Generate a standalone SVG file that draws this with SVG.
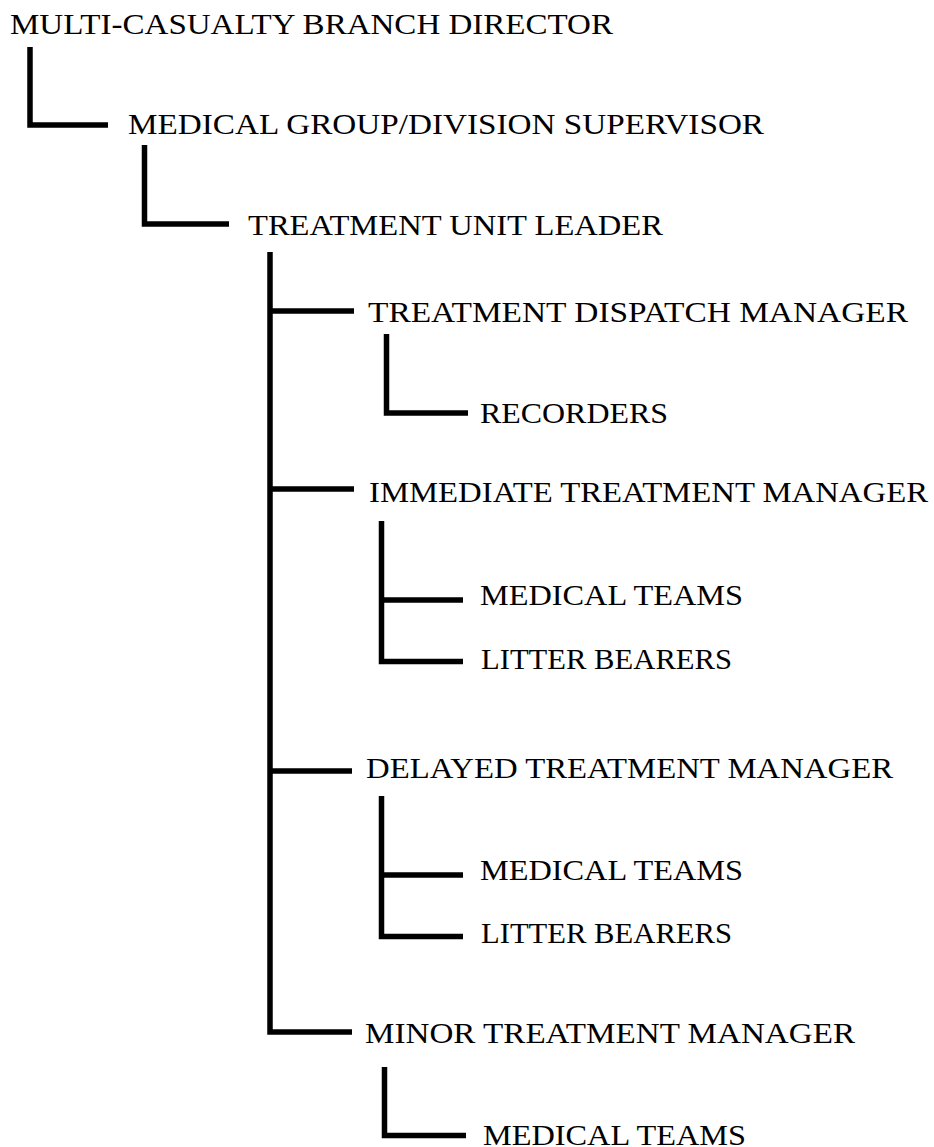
<svg xmlns="http://www.w3.org/2000/svg" width="934" height="1147" viewBox="0 0 934 1147">
<style>
.t{font-family:"Liberation Serif","DejaVu Serif",serif;font-size:30px;fill:#000}
.c{fill:none;stroke:#000;stroke-width:5.5;stroke-linejoin:miter;stroke-linecap:butt}
</style>
<rect width="934" height="1147" fill="#fff"/>
<g id="connectors" class="c">
<path d="M30 47V125H108"/>
<path d="M144.5 145V224H229"/>
<path d="M270 252V1032H352M270 311H354M270 489H354M270 771H352"/>
<path d="M386.5 334V413H468"/>
<path d="M381.5 521V661.5H463M381.5 600H463"/>
<path d="M381.5 796V936.5H463M381.5 875H463"/>
<path d="M384.5 1067V1135.5H466"/>
</g>
<g id="n1"><text class="t" x="10" y="34" textLength="603" lengthAdjust="spacingAndGlyphs">MULTI-CASUALTY BRANCH DIRECTOR</text></g>
<g id="n2"><text class="t" x="128" y="134" textLength="636" lengthAdjust="spacingAndGlyphs">MEDICAL GROUP/DIVISION SUPERVISOR</text></g>
<g id="n3"><text class="t" x="248" y="235" textLength="415" lengthAdjust="spacingAndGlyphs">TREATMENT UNIT LEADER</text></g>
<g id="n4"><text class="t" x="368" y="322" textLength="540" lengthAdjust="spacingAndGlyphs">TREATMENT DISPATCH MANAGER</text></g>
<g id="n5"><text class="t" x="480" y="423" textLength="188" lengthAdjust="spacingAndGlyphs">RECORDERS</text></g>
<g id="n6"><text class="t" x="369" y="502" textLength="559" lengthAdjust="spacingAndGlyphs">IMMEDIATE TREATMENT MANAGER</text></g>
<g id="n7"><text class="t" x="480" y="605" textLength="263" lengthAdjust="spacingAndGlyphs">MEDICAL TEAMS</text></g>
<g id="n8"><text class="t" x="481" y="669" textLength="251" lengthAdjust="spacingAndGlyphs">LITTER BEARERS</text></g>
<g id="n9"><text class="t" x="366" y="778" textLength="527" lengthAdjust="spacingAndGlyphs">DELAYED TREATMENT MANAGER</text></g>
<g id="n10"><text class="t" x="480" y="880" textLength="263" lengthAdjust="spacingAndGlyphs">MEDICAL TEAMS</text></g>
<g id="n11"><text class="t" x="481" y="943" textLength="251" lengthAdjust="spacingAndGlyphs">LITTER BEARERS</text></g>
<g id="n12"><text class="t" x="365" y="1043" textLength="490" lengthAdjust="spacingAndGlyphs">MINOR TREATMENT MANAGER</text></g>
<g id="n13"><text class="t" x="483" y="1145" textLength="263" lengthAdjust="spacingAndGlyphs">MEDICAL TEAMS</text></g>
</svg>
